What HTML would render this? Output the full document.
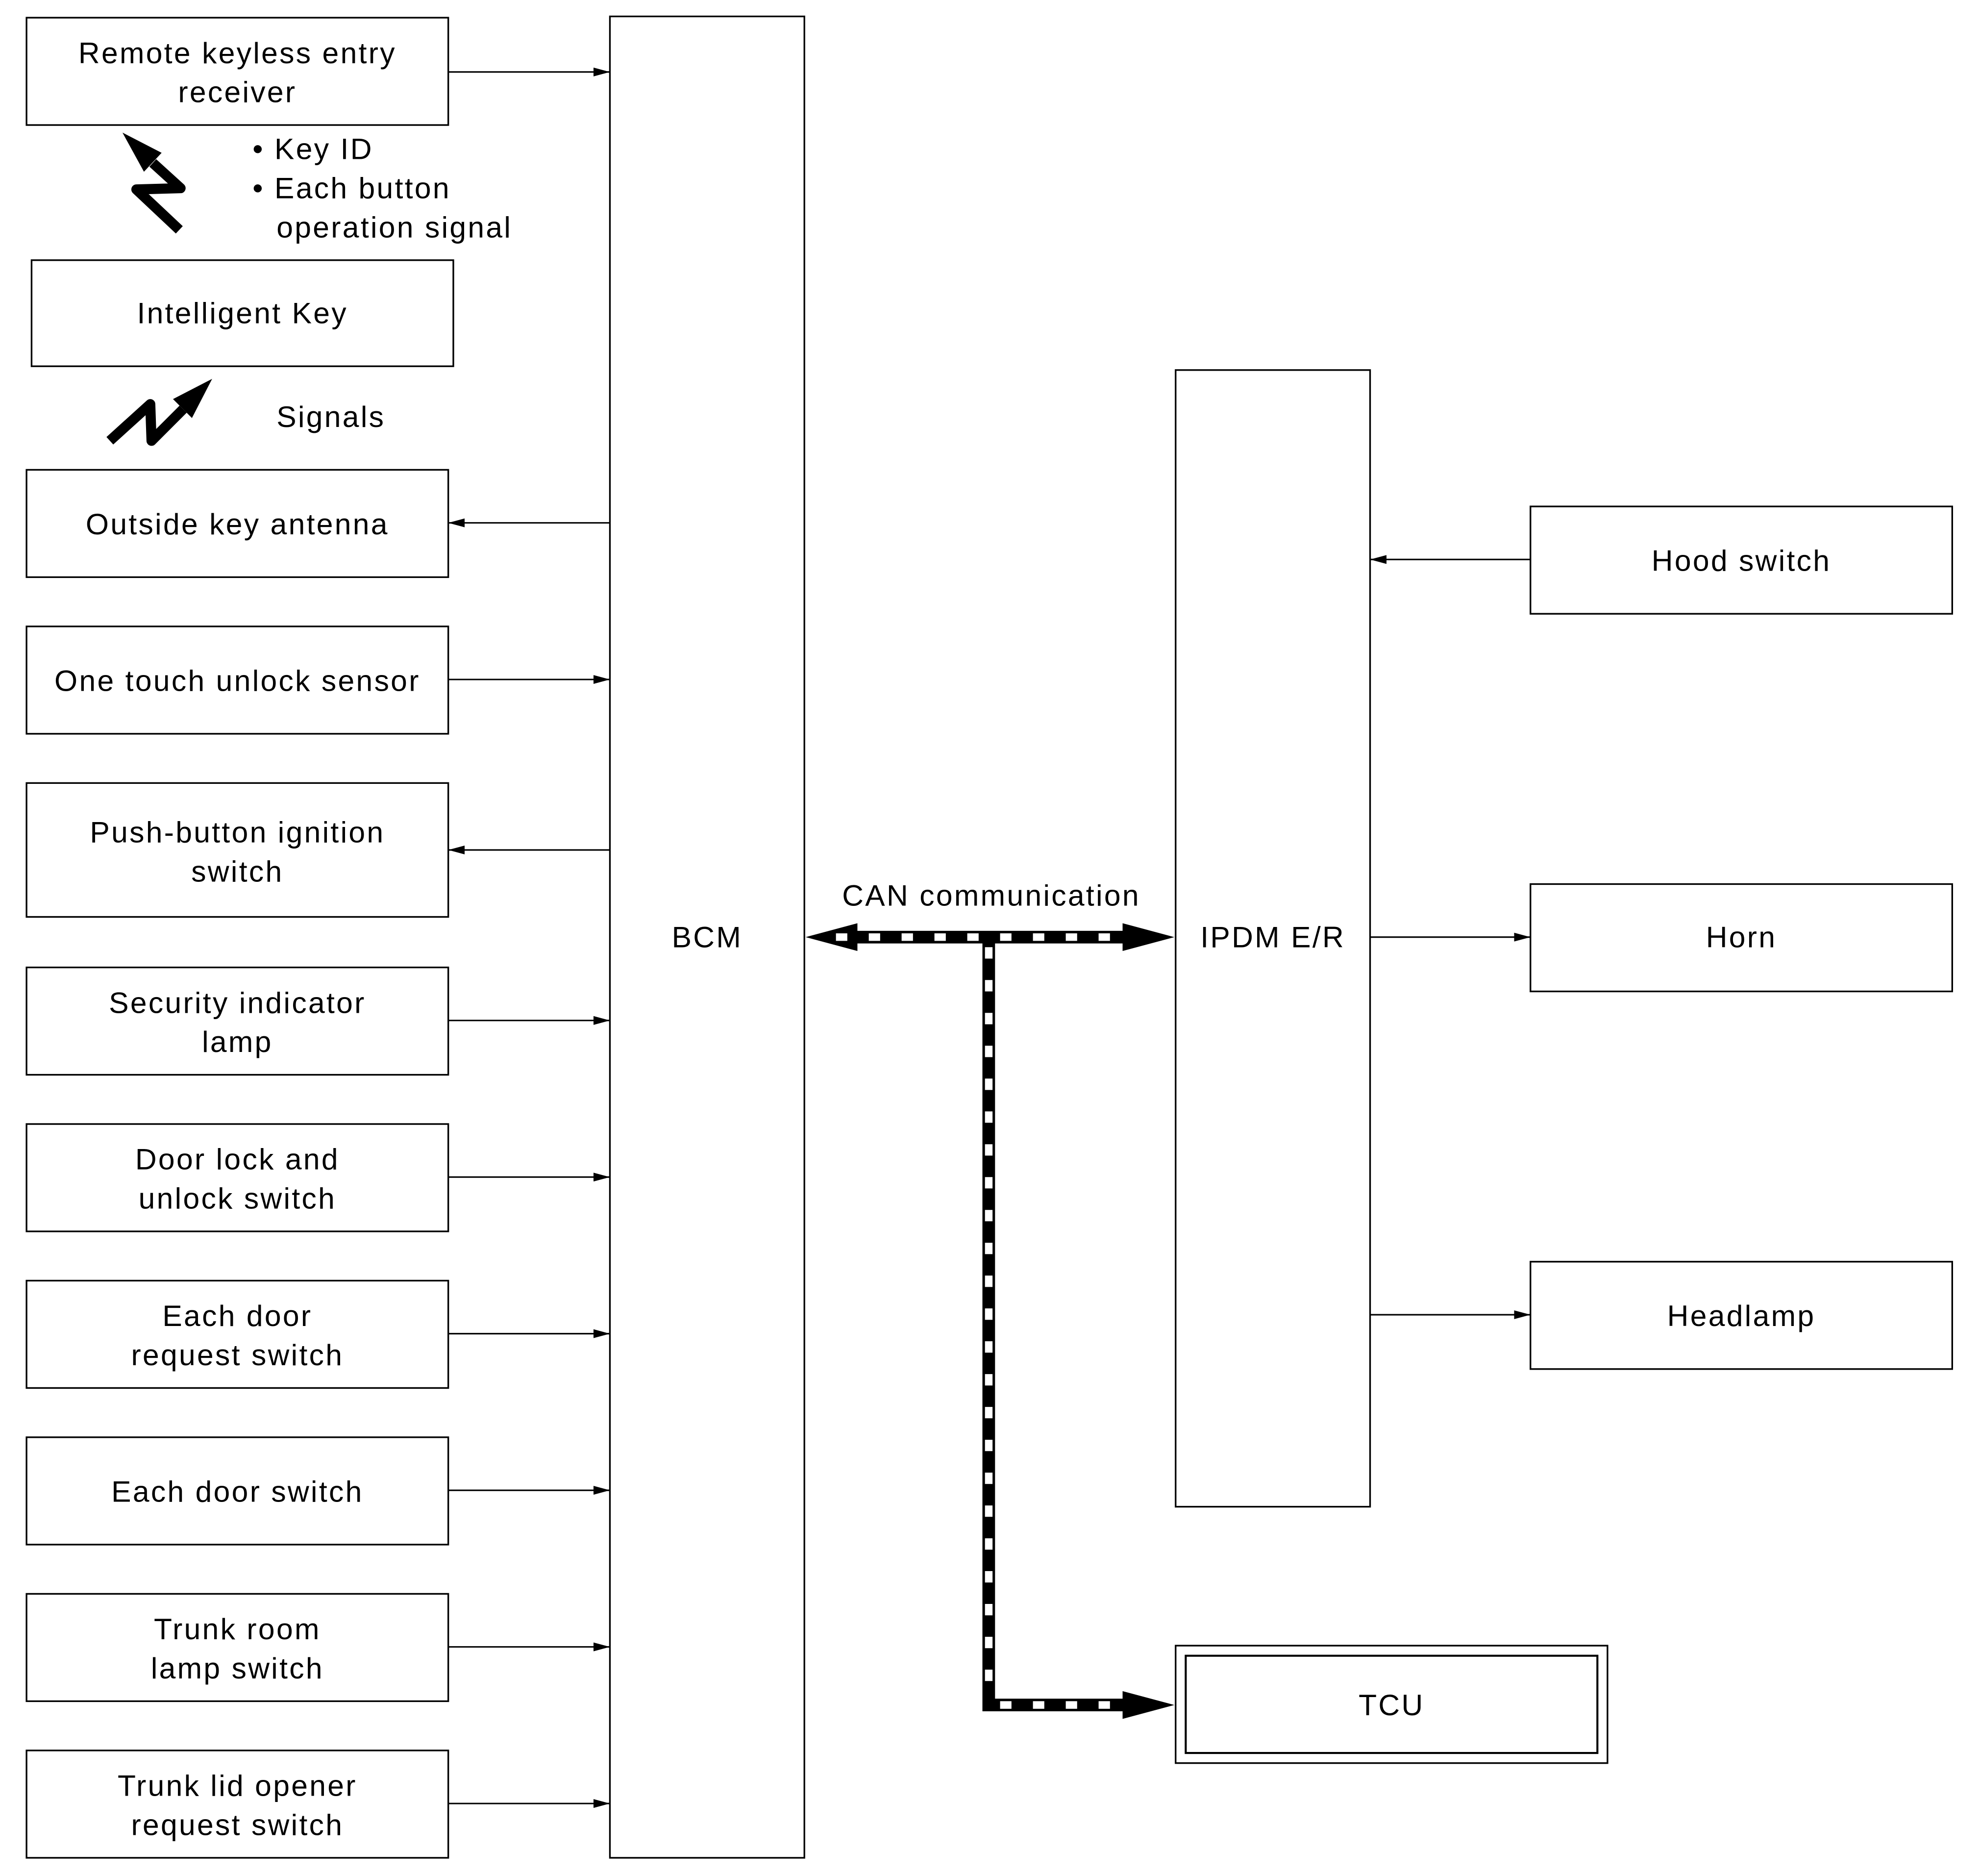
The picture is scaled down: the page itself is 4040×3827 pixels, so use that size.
<!DOCTYPE html>
<html><head><meta charset="utf-8"><style>
html,body{margin:0;padding:0;background:#fff}
svg{display:block}
text{font-family:"Liberation Sans",sans-serif;font-size:23.5px;letter-spacing:1.3px;fill:#000}
</style></head><body>
<svg width="4040" height="3827" viewBox="0 0 1568 1485.4" preserveAspectRatio="none" xmlns="http://www.w3.org/2000/svg">
<defs>
<marker id="a" markerWidth="13" markerHeight="7" refX="13" refY="3.5" orient="auto" markerUnits="userSpaceOnUse"><path d="M0,0 L13,3.5 L0,7 Z" fill="#000"/></marker>
</defs>
<g fill="none" stroke="#000" stroke-width="1.3">
<rect x="21" y="14" width="334" height="85"/>
<rect x="25" y="206" width="334" height="84"/>
<rect x="21" y="372" width="334" height="85"/>
<rect x="21" y="496" width="334" height="85"/>
<rect x="21" y="620" width="334" height="106"/>
<rect x="21" y="766" width="334" height="85"/>
<rect x="21" y="890" width="334" height="85"/>
<rect x="21" y="1014" width="334" height="85"/>
<rect x="21" y="1138" width="334" height="85"/>
<rect x="21" y="1262" width="334" height="85"/>
<rect x="21" y="1386" width="334" height="85"/>
<rect x="483" y="13" width="154" height="1458"/>
<rect x="931" y="293" width="154" height="900"/>
<rect x="1212" y="401" width="334" height="85"/>
<rect x="1212" y="700" width="334" height="85"/>
<rect x="1212" y="999" width="334" height="85"/>
<rect x="931" y="1303" width="342" height="93"/>
<rect x="939" y="1311" width="326" height="77" stroke-width="1.6"/>
</g>
<g stroke="#000" stroke-width="1.2" marker-end="url(#a)">
<line x1="355" y1="57" x2="483" y2="57"/>
<line x1="483" y1="414" x2="355" y2="414"/>
<line x1="355" y1="538" x2="483" y2="538"/>
<line x1="483" y1="673" x2="355" y2="673"/>
<line x1="355" y1="808" x2="483" y2="808"/>
<line x1="355" y1="932" x2="483" y2="932"/>
<line x1="355" y1="1056" x2="483" y2="1056"/>
<line x1="355" y1="1180" x2="483" y2="1180"/>
<line x1="355" y1="1304" x2="483" y2="1304"/>
<line x1="355" y1="1428" x2="483" y2="1428"/>
<line x1="1212" y1="443" x2="1085" y2="443"/>
<line x1="1085" y1="742" x2="1212" y2="742"/>
<line x1="1085" y1="1041" x2="1212" y2="1041"/>
</g>
<g>
<line x1="678" y1="742" x2="892" y2="742" stroke="#000" stroke-width="10"/>
<polyline points="783,742 783,1350 892,1350" fill="none" stroke="#000" stroke-width="10"/>
<polygon points="638,742 679,731 679,753" fill="#000"/>
<polygon points="930,742 889,731 889,753" fill="#000"/>
<polygon points="930,1350 889,1339 889,1361" fill="#000"/>
<line x1="662" y1="742" x2="882" y2="742" stroke="#fff" stroke-width="6" stroke-dasharray="9 17"/>
<line x1="783" y1="750" x2="783" y2="1345" stroke="#fff" stroke-width="6" stroke-dasharray="9 17"/>
<line x1="792" y1="1350" x2="882" y2="1350" stroke="#fff" stroke-width="6" stroke-dasharray="9 17"/>
</g>
<g fill="#000">
<polyline points="121,129 143,149 108,150 142,182" fill="none" stroke="#000" stroke-width="8" stroke-linejoin="round"/>
<polygon points="97,105 128,121 114,136"/>
<polyline points="87,349 119,320 120,349 145,324" fill="none" stroke="#000" stroke-width="8" stroke-linejoin="round"/>
<polygon points="168,300 137,316 152,331"/>
</g>
<g text-anchor="middle">
<text x="188" y="50">Remote keyless entry</text>
<text x="188" y="81">receiver</text>
<text x="192" y="256">Intelligent Key</text>
<text x="188" y="423">Outside key antenna</text>
<text x="188" y="547">One touch unlock sensor</text>
<text x="188" y="667">Push-button ignition</text>
<text x="188" y="698">switch</text>
<text x="188" y="802">Security indicator</text>
<text x="188" y="833">lamp</text>
<text x="188" y="926">Door lock and</text>
<text x="188" y="957">unlock switch</text>
<text x="188" y="1050">Each door</text>
<text x="188" y="1081">request switch</text>
<text x="188" y="1189">Each door switch</text>
<text x="188" y="1298">Trunk room</text>
<text x="188" y="1329">lamp switch</text>
<text x="188" y="1422">Trunk lid opener</text>
<text x="188" y="1453">request switch</text>
<text x="560" y="750">BCM</text>
<text x="1008" y="750">IPDM E/R</text>
<text x="1379" y="452">Hood switch</text>
<text x="1379" y="750">Horn</text>
<text x="1379" y="1050">Headlamp</text>
<text x="1102" y="1358">TCU</text>
<text x="785" y="717">CAN communication</text>
</g>
<text x="200" y="126">• Key ID</text>
<text x="200" y="157">• Each button</text>
<text x="219" y="188">operation signal</text>
<text x="219" y="338">Signals</text>
</svg>
</body></html>
